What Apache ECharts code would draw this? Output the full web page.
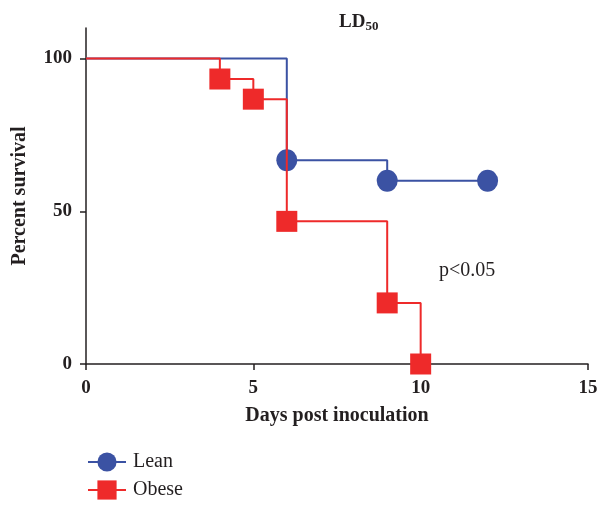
<!DOCTYPE html>
<html>
<head>
<meta charset="utf-8">
<script src="https://cdn.jsdelivr.net/npm/echarts@6/dist/echarts.min.js"></script>
<style>
  html, body { margin: 0; padding: 0; background: #fff; }
  #chart { width: 602px; height: 505px; }
</style>
</head>
<body>
<div id="chart"></div>
<script>
// Kaplan-Meier survival, LD50
const leanDays = [0, 6, 9, 12];
const leanSurvival = [100, 66.7, 60, 60];
const obeseDays = [0, 4, 5, 6, 9, 10];
const obeseSurvival = [100, 93.3, 86.7, 46.7, 20, 0];
const xTicks = [0, 5, 10, 15];
const yTicks = [0, 50, 100];

const serif = 'Liberation Serif';
const blue = '#3B52A3';
const red = '#EE2A2A';

// first point (day 0) is only the start of the curve, no marker
const toPoints = (days, vals) =>
  days.map((d, i) => (i === 0 ? { value: [d, vals[i]], symbol: 'none' } : [d, vals[i]]));

const chart = echarts.init(document.getElementById('chart'));

const option = {
  animation: false,
  backgroundColor: '#fff',
  title: {
    text: 'LD{sub|50}',
    left: 334,
    top: 6,
    textStyle: {
      fontFamily: serif,
      fontWeight: 'bold',
      fontSize: 19,
      color: '#231f20',
      rich: {
        sub: {
          fontFamily: serif,
          fontWeight: 'bold',
          fontSize: 13,
          color: '#231f20',
          verticalAlign: 'bottom',
          padding: [9, 0, 0, 0],
        },
      },
    },
  },
  grid: {
    left: 86,
    right: 14,
    top: 28,
    bottom: 141,
    outerBoundsMode: 'none',
  },
  legend: {
    orient: 'vertical',
    left: 82,
    top: 447,
    height: 58,
    itemWidth: 38,
    itemHeight: 24,
    itemGap: 8,
    data: ['Lean', 'Obese'],
    textStyle: {
      fontFamily: serif,
      fontSize: 20,
      lineHeight: 20,
      color: '#231f20',
      padding: [0, 0, 0, 2],
    },
  },
  xAxis: {
    type: 'value',
    min: 0,
    max: 15,
    name: 'Days post inoculation',
    nameLocation: 'middle',
    nameGap: 42,
    nameTextStyle: {
      fontFamily: serif,
      fontWeight: 'bold',
      fontSize: 20,
      color: '#231f20',
    },
    axisLine: { show: true, lineStyle: { color: '#231f20', width: 1.5 } },
    axisTick: { show: true, length: 6, customValues: xTicks, lineStyle: { color: '#231f20', width: 1.5 } },
    axisLabel: {
      customValues: xTicks,
      margin: 15,
      fontFamily: serif,
      fontWeight: 'bold',
      fontSize: 19,
      color: '#231f20',
    },
    splitLine: { show: false },
  },
  yAxis: {
    type: 'value',
    min: 0,
    max: 110,
    name: 'Percent survival',
    nameLocation: 'middle',
    nameGap: 56,
    nameTextStyle: {
      fontFamily: serif,
      fontWeight: 'bold',
      fontSize: 20,
      color: '#231f20',
    },
    axisLine: { show: true, lineStyle: { color: '#231f20', width: 1.5 } },
    axisTick: { show: true, length: 6, customValues: yTicks, lineStyle: { color: '#231f20', width: 1.5 } },
    axisLabel: {
      customValues: yTicks,
      margin: 14,
      fontFamily: serif,
      fontWeight: 'bold',
      fontSize: 19,
      color: '#231f20',
    },
    splitLine: { show: false },
  },
  series: [
    {
      name: 'Lean',
      type: 'line',
      step: 'end',
      color: blue,
      symbol: 'circle',
      symbolSize: [21, 22],
      showAllSymbol: true,
      lineStyle: { width: 2, color: blue },
      itemStyle: { color: blue },
      data: toPoints(leanDays, leanSurvival),
      z: 2,
    },
    {
      name: 'Obese',
      type: 'line',
      step: 'end',
      color: red,
      symbol: 'rect',
      symbolSize: 21,
      showAllSymbol: true,
      lineStyle: { width: 2, color: red },
      itemStyle: { color: red },
      data: toPoints(obeseDays, obeseSurvival),
      z: 3,
    },
  ],
  graphic: [
    {
      type: 'text',
      left: 439,
      top: 261,
      style: {
        text: 'p<0.05',
        fontFamily: serif,
        fontSize: 20,
        fill: '#231f20',
      },
    },
  ],
};

chart.setOption(option);
</script>
</body>
</html>
